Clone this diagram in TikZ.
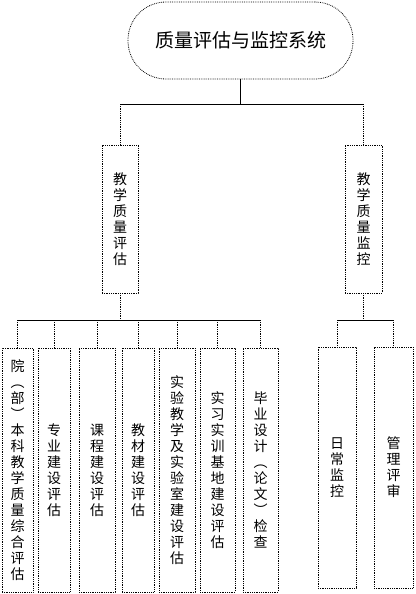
\documentclass[tikz,border=0pt]{standalone}
\usepackage{fontspec}
\newfontfamily\cjk{Noto Sans CJK SC}
\begin{document}
\begin{tikzpicture}[x=1pt,y=-1pt,
  conn/.style={line width=0.8pt},
  dotline/.style={line width=0.8pt, densely dotted},
  vbox/.style={draw, densely dotted, line width=0.8pt, inner sep=0pt, outer sep=0pt, align=center, font=\cjk\fontsize{14}{16}\selectfont},
]
\useasboundingbox (0,0) rectangle (415,594);
\node[draw, densely dotted, line width=0.8pt, rounded corners=38pt, minimum width=225pt, minimum height=77pt, inner sep=0pt, outer sep=0pt, font=\cjk\fontsize{19}{20}\selectfont] (top) at (240.5,40.5) {质量评估与监控系统};
\node[vbox, minimum width=36pt, minimum height=148pt] (A) at (120,219) {教\\学\\质\\量\\评\\估};
\node[vbox, minimum width=37pt, minimum height=148pt] (B) at (363.5,219) {教\\学\\质\\量\\监\\控};
\node[vbox, minimum width=31pt, minimum height=244pt] (c1) at (17.5,470) {院\\︵\\部\\︶\\本\\科\\教\\学\\质\\量\\综\\合\\评\\估};
\node[vbox, minimum width=32pt, minimum height=244pt] (c2) at (54,470) {专\\业\\建\\设\\评\\估};
\node[vbox, minimum width=36pt, minimum height=244pt] (c3) at (97,470) {课\\程\\建\\设\\评\\估};
\node[vbox, minimum width=32pt, minimum height=244pt] (c4) at (138,470) {教\\材\\建\\设\\评\\估};
\node[vbox, minimum width=36pt, minimum height=244pt] (c5) at (177,470) {实\\验\\教\\学\\及\\实\\验\\室\\建\\设\\评\\估};
\node[vbox, minimum width=35pt, minimum height=244pt] (c6) at (217.5,470) {实\\习\\实\\训\\基\\地\\建\\设\\评\\估};
\node[vbox, minimum width=35pt, minimum height=244pt] (c7) at (260.5,470) {毕\\业\\设\\计\\︵\\论\\文\\︶\\检\\查};
\node[vbox, minimum width=38pt, minimum height=241pt] (d1) at (337,467.5) {日\\常\\监\\控};
\node[vbox, minimum width=39pt, minimum height=241pt] (d2) at (393.5,467.5) {管\\理\\评\\审};
\coordinate (j1) at (241,104);
\coordinate (j2) at (120,320);
\coordinate (j3) at (363.5,320);
\draw[conn] (top.south) -- (top.south |- j1);
\draw[conn] (A.north |- j1) -- (B.north |- j1);
\draw[dotline] (A.north |- j1) -- (A.north);
\draw[dotline] (B.north |- j1) -- (B.north);
\draw[dotline] (A.south) -- (A.south |- j2);
\draw[conn] (c1.north |- j2) -- (c7.north |- j2);
\foreach \n in {c1,c2,c3,c4,c5,c6,c7} {\draw[dotline] (\n.north |- j2) -- (\n.north);}
\draw[dotline] (B.south) -- (B.south |- j3);
\draw[conn] (d1.north |- j3) -- (d2.north |- j3);
\foreach \n in {d1,d2} {\draw[dotline] (\n.north |- j3) -- (\n.north);}
\end{tikzpicture}
\end{document}
